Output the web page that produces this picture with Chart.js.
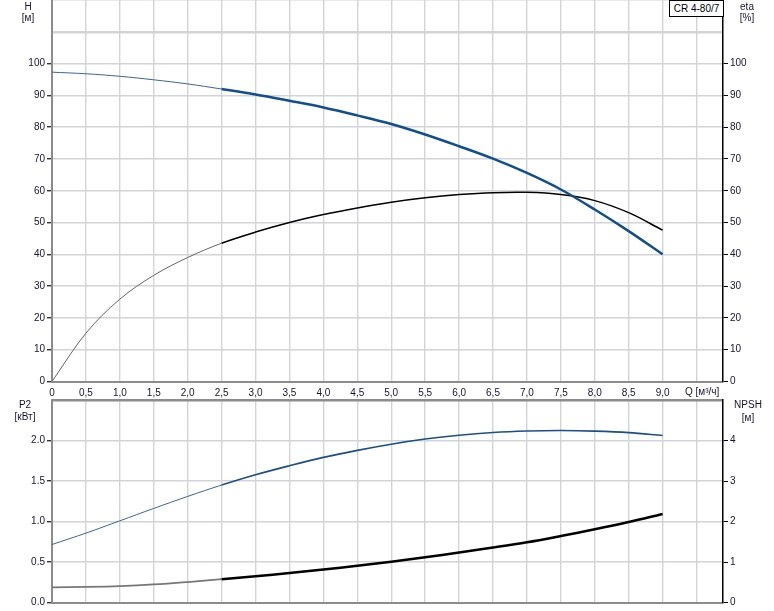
<!DOCTYPE html>
<html>
<head>
<meta charset="utf-8">
<script src="https://cdn.jsdelivr.net/npm/chart.js@4.4.1/dist/chart.umd.min.js"></script>
<style>
body { margin: 0; background: #fff; width: 774px; height: 611px; position: relative; overflow: hidden; font-family: Arial, 'Liberation Sans', sans-serif; }
canvas { position: absolute; left: 0; }
#topChart { top: 0; }
#bottomChart { top: 396px; }
.lbl { position: absolute; font-size: 10px; line-height: 12px; color: #14143a; white-space: nowrap; transform: translateX(-50%); }
#model { position: absolute; left: 669px; top: 0; width: 53px; height: 15px; border: 1px solid #000; background: #fff;
  font-size: 10px; line-height: 15px; text-align: center; color: #000; }
</style>
</head>
<body>
<canvas id="topChart" width="774" height="398"></canvas>
<canvas id="bottomChart" width="774" height="215"></canvas>

<div class="lbl" style="left:28px;top:1px">H</div>
<div class="lbl" style="left:28px;top:12px">[м]</div>
<div class="lbl" style="left:747px;top:1px">eta</div>
<div class="lbl" style="left:747px;top:12px">[%]</div>
<div class="lbl" style="left:25px;top:399px">P2</div>
<div class="lbl" style="left:25px;top:411px">[кВт]</div>
<div class="lbl" style="left:748px;top:399px">NPSH</div>
<div class="lbl" style="left:748px;top:412px">[м]</div>
<div class="lbl" style="left:685px;top:386px;transform:none">Q [м³/ч]</div>
<div id="model">CR 4-80/7</div>

<script>
// flow Q [m3/h]
const flow  = [0, 0.5, 1, 1.5, 2, 2.5, 3, 3.5, 4, 4.5, 5, 5.5, 6, 6.5, 7, 7.5, 8, 8.5, 9];
// head H [m]
const head  = [97.3, 96.8, 96.0, 94.9, 93.6, 92.0, 90.3, 88.3, 86.2, 83.7, 81.0, 77.7, 74.0, 70.1, 65.6, 60.4, 54.1, 47.3, 40.0];
// efficiency eta [%]
const eff   = [0, 15.2, 25.9, 33.4, 39.0, 43.5, 47.0, 50.0, 52.5, 54.6, 56.4, 57.8, 58.8, 59.4, 59.5, 58.8, 56.9, 53.1, 47.6];
// power P2 [kW]
const power = [0.718, 0.858, 1.01, 1.163, 1.311, 1.451, 1.578, 1.689, 1.792, 1.879, 1.955, 2.018, 2.066, 2.099, 2.117, 2.123, 2.116, 2.098, 2.062];
// NPSH [m]
const npsh  = [0.38, 0.39, 0.41, 0.45, 0.51, 0.58, 0.65, 0.73, 0.82, 0.91, 1.01, 1.12, 1.24, 1.36, 1.49, 1.645, 1.81, 1.99, 2.19];

const xTicks    = [0, 0.5, 1, 1.5, 2, 2.5, 3, 3.5, 4, 4.5, 5, 5.5, 6, 6.5, 7, 7.5, 8, 8.5, 9, 9.5];
const hTicks    = [0, 10, 20, 30, 40, 50, 60, 70, 80, 90, 100, 110, 120];
const p2Ticks   = [0, 0.5, 1, 1.5, 2, 2.5];
const npshTicks = [0, 1, 2, 3, 4, 5];

const X_MAX = 9.89;
const DUTY_START = 2.5; // curves are drawn thicker from here on
const GRID = '#d2d4d7';
const AXIS = '#8c8c8c';
const TICK_TEXT = '#14143a';
const font = { family: 'Arial, "Liberation Sans", sans-serif', size: 10 };

const pts = ys => flow.map((q, i) => ({ x: q, y: ys[i] }));
const setTicks = arr => scale => { scale.ticks = arr.map(v => ({ value: v })); };
const thick = ctx => flow[ctx.p0DataIndex] >= DUTY_START;

function yFit(w) {
    return scale => { scale.width = w; scale.paddingTop = 0; scale.paddingBottom = 0; };
}
function xFit(h) {
    return scale => { scale.height = h; scale.paddingLeft = 0; scale.paddingRight = 0; };
}

function curve(data, axis, thinColor, thinW, color, w) {
    return {
        data: data,
        yAxisID: axis,
        borderColor: color,
        borderWidth: w,
        pointRadius: 0,
        tension: 0.35,
        segment: {
            borderColor: ctx => thick(ctx) ? color : thinColor,
            borderWidth: ctx => thick(ctx) ? w : thinW
        }
    };
}

const xScale = (showLabels, h) => ({
    type: 'linear',
    min: 0,
    max: X_MAX,
    afterBuildTicks: setTicks(xTicks),
    afterFit: xFit(h),
    grid: { color: GRID, lineWidth: 1.4, drawTicks: false },
    border: { color: AXIS, width: 2 },
    ticks: {
        display: showLabels,
        padding: 6,
        color: TICK_TEXT,
        font: font,
        maxRotation: 0,
        autoSkip: false,
        callback: v => v > 9 ? '' : (v === 0 ? '0' : v.toFixed(1).replace('.', ','))
    }
});

new Chart(document.getElementById('topChart'), {
    type: 'line',
    data: {
        datasets: [
            curve(pts(head), 'yH', '#3d6597', 1, '#0f4f8f', 2.5),
            curve(pts(eff), 'yEta', '#666666', 1, '#000000', 1.5)
        ]
    },
    options: {
        responsive: false,
        animation: false,
        layout: { padding: 0 },
        plugins: { legend: { display: false }, tooltip: { enabled: false } },
        scales: {
            x: xScale(true, 16.5),
            yH: {
                position: 'left',
                min: 0, max: 120,
                afterBuildTicks: setTicks(hTicks),
                afterFit: yFit(52),
                grid: {
                    color: GRID,
                    lineWidth: ctx => ctx.tick && ctx.tick.value === 110 ? 2.5 : 1.4,
                    tickLength: 5,
                    tickColor: ctx => ctx.tick && ctx.tick.value > 100 ? 'rgba(0,0,0,0)' : '#333'
                },
                border: { color: AXIS, width: 2 },
                ticks: { padding: 2, color: TICK_TEXT, font: font, callback: v => v > 100 ? '' : String(v) }
            },
            yEta: {
                position: 'right',
                min: 0, max: 120,
                afterBuildTicks: setTicks(hTicks),
                afterFit: yFit(51),
                grid: {
                    drawOnChartArea: false,
                    tickLength: 5,
                    tickColor: ctx => ctx.tick && ctx.tick.value > 100 ? 'rgba(0,0,0,0)' : '#000'
                },
                border: { color: '#000', width: 1.5 },
                ticks: { padding: 2, color: TICK_TEXT, font: font, callback: v => v > 100 ? '' : String(v) }
            }
        }
    }
});

new Chart(document.getElementById('bottomChart'), {
    type: 'line',
    data: {
        datasets: [
            curve(pts(power), 'yP', '#3d6597', 1, '#1a4f8a', 1.6),
            curve(pts(npsh), 'yN', '#777777', 1.8, '#000000', 2.5)
        ]
    },
    options: {
        responsive: false,
        animation: false,
        layout: { padding: { top: 4, left: 0, right: 0, bottom: 0 } },
        plugins: { legend: { display: false }, tooltip: { enabled: false } },
        scales: {
            x: xScale(false, 8.3),
            yP: {
                position: 'left',
                min: 0, max: 2.5,
                afterBuildTicks: setTicks(p2Ticks),
                afterFit: yFit(52),
                grid: {
                    color: ctx => ctx.tick && ctx.tick.value === 2.5 ? AXIS : GRID,
                    lineWidth: ctx => ctx.tick && ctx.tick.value === 2.5 ? 2.5 : 1.4,
                    tickLength: 5,
                    tickColor: ctx => ctx.tick && ctx.tick.value > 2 ? 'rgba(0,0,0,0)' : '#333'
                },
                border: { color: AXIS, width: 2 },
                ticks: { padding: 2, color: TICK_TEXT, font: font, callback: v => v > 2 ? '' : v.toFixed(1) }
            },
            yN: {
                position: 'right',
                min: 0, max: 5,
                afterBuildTicks: setTicks(npshTicks),
                afterFit: yFit(51),
                grid: {
                    drawOnChartArea: false,
                    tickLength: 5,
                    tickColor: ctx => ctx.tick && ctx.tick.value > 4 ? 'rgba(0,0,0,0)' : '#000'
                },
                border: { color: '#000', width: 1.5 },
                ticks: { padding: 2, color: TICK_TEXT, font: font, callback: v => v > 4 ? '' : String(v) }
            }
        }
    }
});
</script>
</body>
</html>
